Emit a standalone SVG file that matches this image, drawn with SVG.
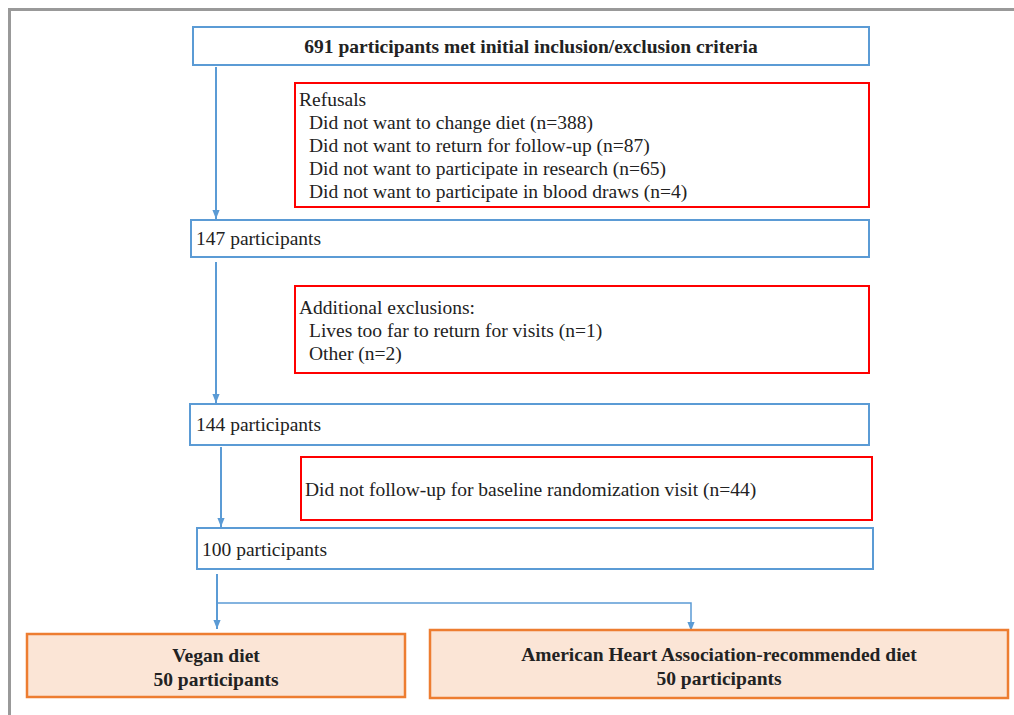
<svg xmlns="http://www.w3.org/2000/svg" width="1014" height="715" viewBox="0 0 1014 715">
<defs>
<style>
.frame{fill:none;stroke:#999;stroke-width:3}
.blue{fill:#fff;stroke:#5b9bd5;stroke-width:2}
.red{fill:#fff;stroke:#ff0000;stroke-width:2}
.org{fill:#fbe5d6;stroke:#ed7d31;stroke-width:2.5}
.t{font-family:"Liberation Serif","Times New Roman",serif;font-size:19.5px;fill:#222}
.b{font-weight:bold}
.c{text-anchor:middle}
.conn{fill:none;stroke:#5b9bd5;stroke-width:2}
</style>
<marker id="ah" viewBox="0 0 10 10" refX="10" refY="5" markerWidth="9" markerHeight="9" markerUnits="userSpaceOnUse" orient="auto">
<path d="M0,1 L10,5 L0,9 Z" fill="#5b9bd5"/>
</marker>
</defs>
<rect width="1014" height="715" fill="#fff"/>
<path class="frame" d="M9.5,715 V9.5 H1014"/>
<g id="connectors">
<line class="conn" x1="216" y1="67" x2="216" y2="219" marker-end="url(#ah)"/>
<line class="conn" x1="216" y1="262" x2="216" y2="403" marker-end="url(#ah)"/>
<line class="conn" x1="221" y1="447" x2="221" y2="527" marker-end="url(#ah)"/>
<line class="conn" x1="217" y1="574" x2="217" y2="629" marker-end="url(#ah)"/>
<polyline class="conn" points="217,603 691,603 691,631" marker-end="url(#ah)" style="stroke-width:1.5"/>
</g>
<g id="n691">
<rect class="blue" x="193" y="27" width="676" height="38"/>
<text class="t b c" x="531" y="53">691 participants met initial inclusion/exclusion criteria</text>
</g>
<g id="refusals">
<rect class="red" x="295" y="83" width="574" height="124"/>
<text class="t" x="299" y="106">Refusals</text>
<text class="t" x="309" y="129">Did not want to change diet (n=388)</text>
<text class="t" x="309" y="152">Did not want to return for follow-up (n=87)</text>
<text class="t" x="309" y="175">Did not want to participate in research (n=65)</text>
<text class="t" x="309" y="198">Did not want to participate in blood draws (n=4)</text>
</g>
<g id="n147">
<rect class="blue" x="191" y="220" width="678" height="37"/>
<text class="t" x="196" y="245">147 participants</text>
</g>
<g id="additional">
<rect class="red" x="295" y="286" width="574" height="87"/>
<text class="t" x="299" y="314">Additional exclusions:</text>
<text class="t" x="309" y="337">Lives too far to return for visits (n=1)</text>
<text class="t" x="309" y="360">Other (n=2)</text>
</g>
<g id="n144">
<rect class="blue" x="190" y="404" width="679" height="41"/>
<text class="t" x="196" y="431">144 participants</text>
</g>
<g id="nofollow">
<rect class="red" x="301" y="457" width="571" height="63"/>
<text class="t" x="305" y="496">Did not follow-up for baseline randomization visit (n=44)</text>
</g>
<g id="n100">
<rect class="blue" x="197" y="528" width="676" height="41"/>
<text class="t" x="202" y="556">100 participants</text>
</g>
<g id="vegan">
<rect class="org" x="27" y="634" width="378" height="63"/>
<text class="t b c" x="216" y="662">Vegan diet</text>
<text class="t b c" x="216" y="686">50 participants</text>
</g>
<g id="aha">
<rect class="org" x="430" y="630" width="578" height="68"/>
<text class="t b c" x="719" y="661">American Heart Association-recommended diet</text>
<text class="t b c" x="719" y="685">50 participants</text>
</g>
</svg>
